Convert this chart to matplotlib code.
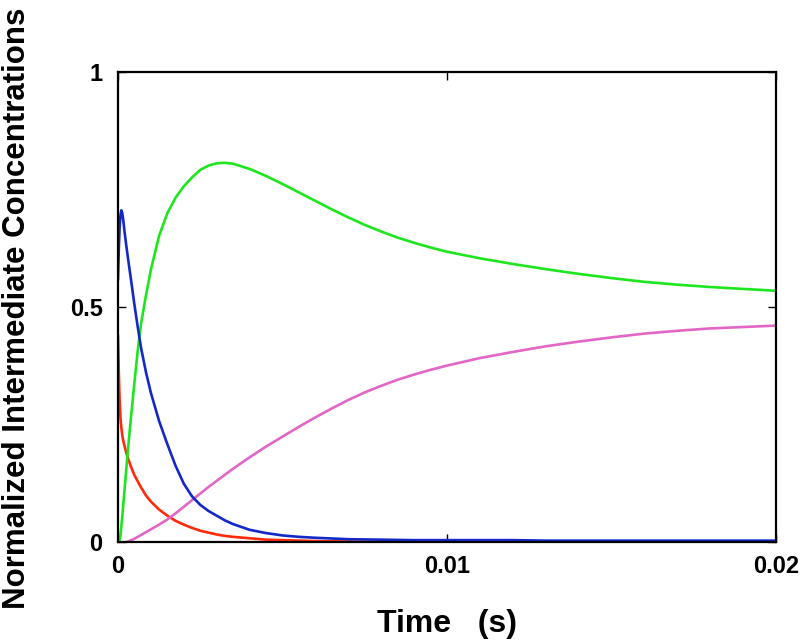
import matplotlib

matplotlib.use("Agg")
import matplotlib.pyplot as plt

time_s = [0, 2.5e-5, 5e-5, 7.5e-5, 1e-4, 1.3e-4, 1.6e-4, 2e-4, 2.5e-4, 3e-4,
          4e-4, 5e-4, 6e-4, 7e-4, 8.5e-4, 1e-3,
          1.25e-3, 1.5e-3, 1.75e-3, 2e-3, 2.25e-3, 2.5e-3, 2.75e-3, 3e-3, 3.25e-3, 3.5e-3,
          4e-3, 4.5e-3, 5e-3, 5.5e-3, 6e-3, 6.5e-3, 7e-3, 7.5e-3, 8e-3, 8.5e-3, 9e-3, 9.5e-3,
          0.010, 0.011, 0.012, 0.013, 0.014, 0.015, 0.016, 0.017, 0.018, 0.019, 0.020]

red = [0.44, 0.36, 0.30, 0.265, 0.245, 0.228, 0.216, 0.205, 0.191, 0.180,
       0.160, 0.143, 0.130, 0.117, 0.100, 0.087,
       0.070, 0.057, 0.046, 0.038, 0.031, 0.025, 0.021, 0.017, 0.014, 0.012,
       0.009, 0.006, 0.005, 0.004, 0.003, 0.0025, 0.002, 0.0015, 0.001, 0.001, 0.001, 0.0005,
       0, 0, 0, 0, 0, 0, 0, 0, 0, 0, 0]

blue = [0.56, 0.625, 0.67, 0.695, 0.706, 0.700, 0.685, 0.660, 0.632, 0.606,
        0.556, 0.505, 0.458, 0.414, 0.362, 0.318,
        0.258, 0.209, 0.163, 0.125, 0.098, 0.080, 0.067, 0.057, 0.047, 0.039,
        0.027, 0.020, 0.015, 0.012, 0.010, 0.0085, 0.007, 0.0065, 0.006, 0.0055, 0.005, 0.005,
        0.005, 0.005, 0.005, 0.004, 0.004, 0.004, 0.004, 0.004, 0.004, 0.004, 0.004]

green = [0, 0, 0.005, 0.016, 0.033, 0.055, 0.08, 0.113, 0.155, 0.196,
         0.27, 0.34, 0.408, 0.465, 0.525, 0.580,
         0.652, 0.700, 0.733, 0.757, 0.776, 0.792, 0.801, 0.806, 0.807, 0.805,
         0.794, 0.779, 0.762, 0.744, 0.726, 0.708, 0.691, 0.675, 0.661, 0.648, 0.637, 0.627,
         0.618, 0.604, 0.592, 0.581, 0.571, 0.562, 0.554, 0.548, 0.543, 0.539, 0.535]

pink = [0, 0, 0, 0, 0, 0, 0, 0, 0.001, 0.002,
        0.005, 0.008, 0.012, 0.016, 0.022, 0.028,
        0.038, 0.049, 0.062, 0.076, 0.090, 0.104, 0.118, 0.131, 0.144, 0.157,
        0.181, 0.204, 0.225, 0.246, 0.266, 0.285, 0.303, 0.319, 0.333, 0.346, 0.357, 0.367,
        0.376, 0.392, 0.405, 0.417, 0.427, 0.436, 0.444, 0.450, 0.455, 0.458, 0.461]

x_ticks = [0, 0.01, 0.02]
x_labels = ["0", "0.01", "0.02"]
y_ticks = [0, 0.5, 1]
y_labels = ["0", "0.5", "1"]

plt.rc("font", family="Liberation Sans", weight="bold")

fig = plt.figure(figsize=(8, 6.43), dpi=100)
ax = fig.add_axes([0.1475, 0.1563, 0.8225, 0.7317])

ax.plot(time_s, red, color="#ff2a0a", lw=1.9)
ax.plot(time_s, pink, color="#e266c6", lw=1.9)
ax.plot(time_s, green, color="#1ee61e", lw=1.9)
ax.plot(time_s, blue, color="#1428c8", lw=1.9)

ax.set_xlim(0, 0.02)
ax.set_ylim(0, 1)
ax.set_xticks(x_ticks)
ax.set_xticklabels(x_labels)
ax.set_yticks(y_ticks)
ax.set_yticklabels(y_labels)
ax.tick_params(direction="in", length=6, width=1, labelsize=17,
               top=True, right=True, pad=9)
ax.tick_params(axis="y", pad=11)
for s in ax.spines.values():
    s.set_linewidth(1.6)

ax.set_xlabel("Time   (s)", fontsize=23, fontweight="bold", labelpad=22)
ax.set_ylabel("Normalized Intermediate Concentrations", fontsize=22.5,
              fontweight="bold")
ax.yaxis.set_label_coords(-0.13, 0.497)

fig.savefig("out.png", dpi=100)
